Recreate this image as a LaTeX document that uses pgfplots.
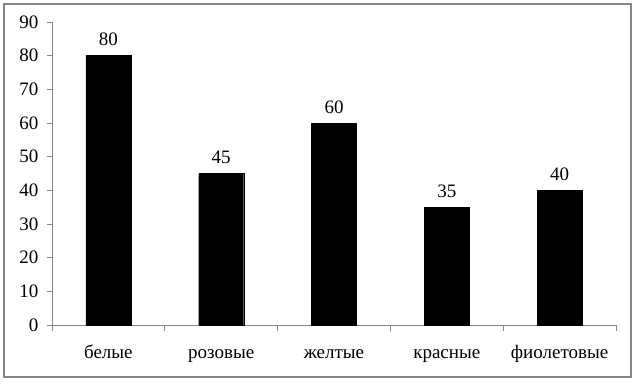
\documentclass[border=0pt]{standalone}
\usepackage{fontspec}
\setmainfont{Liberation Serif}
\usepackage{pgfplots}
\pgfplotsset{compat=1.18}
\definecolor{axgray}{HTML}{868686}
\begin{document}
\begin{tikzpicture}
\path[use as bounding box] (0pt,0pt) rectangle (635pt,384pt);
\draw[axgray, line width=1.3pt] (4pt,7pt) rectangle (631pt,380pt);
\begin{axis}[
  at={(52pt,59pt)}, anchor=south west,
  scale only axis, width=564pt, height=303pt,
  xmin=-0.5, xmax=4.5, ymin=0, ymax=90,
  axis lines*=left,
  axis line style={axgray, line width=0.8pt},
  every tick/.style={axgray, line width=0.8pt},
  tick align=outside,
  xtick={0,1,2,3,4},
  xticklabels={белые,розовые,желтые,красные,фиолетовые},
  major x tick style={draw=none},
  minor xtick={-0.5,0.5,1.5,2.5,3.5,4.5},
  minor tick length=6pt,
  major tick length=5pt,
  ytick={0,10,...,90},
  tick label style={font=\fontsize{19}{22}\selectfont, black},
  xticklabel style={yshift=-12pt, text height=13pt, text depth=4pt},
  yticklabel style={xshift=-5pt},
  /pgf/number format/assume math mode=true,
  ybar, bar width=45pt,
  nodes near coords,
  every node near coord/.append style={font=\fontsize{19}{22}\selectfont, black, yshift=6pt},
]
\addplot[fill=black, draw=black] coordinates {(0,80) (1,45) (2,60) (3,35) (4,40)};
\end{axis}
\end{tikzpicture}
\end{document}
